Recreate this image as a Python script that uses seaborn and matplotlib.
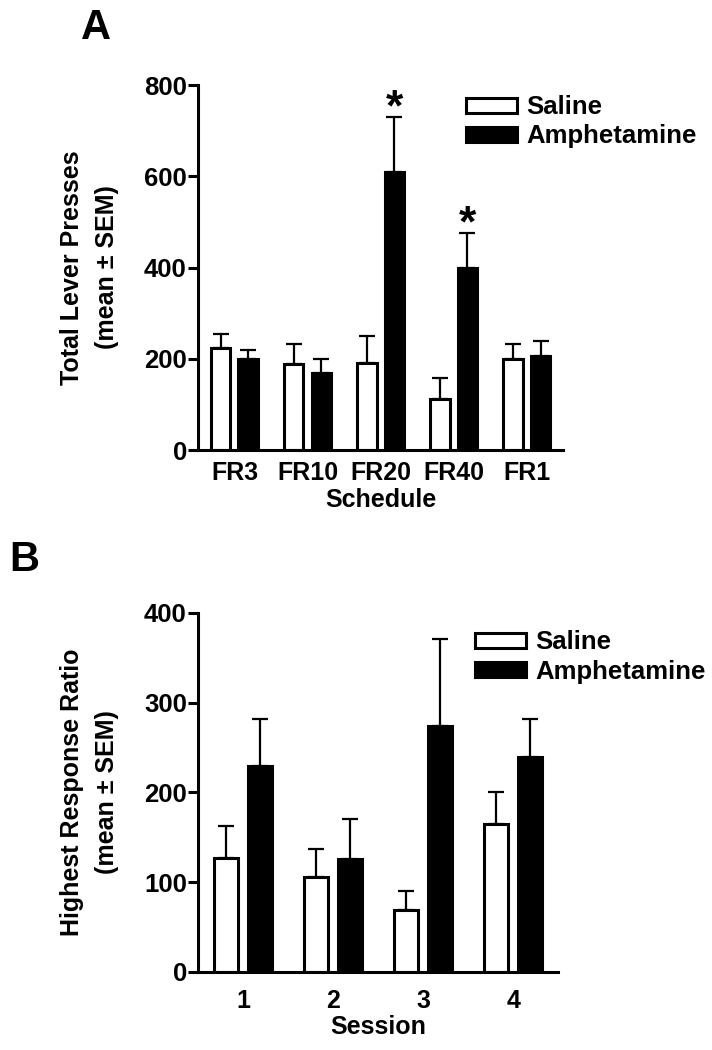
import numpy as np
import pandas as pd
import matplotlib
matplotlib.use("Agg")
import matplotlib.pyplot as plt
import seaborn as sns

# Panel A: total lever presses per schedule
schedules = ["FR3", "FR10", "FR20", "FR40", "FR1"]
a_saline = [224, 189, 190, 112, 200]
a_saline_sem = [30, 43, 61, 46, 32]
a_amph = [200, 169, 609, 399, 207]
a_amph_sem = [19, 31, 121, 77, 31]
a_starred = ["FR20", "FR40"]

# Panel B: highest response ratio per session
sessions = ["1", "2", "3", "4"]
b_saline = [127, 106, 69, 165]
b_saline_sem = [36, 31, 21, 35]
b_amph = [229, 126, 274, 240]
b_amph_sem = [53, 45, 97, 42]

groups = ["Saline", "Amphetamine"]
palette = {"Saline": "white", "Amphetamine": "black"}

sns.set_style("ticks", rc={"axes.edgecolor": "black", "text.color": "black",
                           "axes.labelcolor": "black", "xtick.color": "black",
                           "ytick.color": "black"})
plt.rcParams["font.family"] = ["Liberation Sans", "DejaVu Sans"]
plt.rcParams["font.weight"] = "bold"


def make_df(cats, sal, amph):
    rows = []
    for c, v in zip(cats, sal):
        rows.append({"cat": c, "group": "Saline", "value": v})
    for c, v in zip(cats, amph):
        rows.append({"cat": c, "group": "Amphetamine", "value": v})
    return pd.DataFrame(rows)


def draw_panel(ax, cats, sal, sal_sem, amph, amph_sem, ymax, ystep, xlabel, ylabel,
               legend_anchor, xpad):
    df = make_df(cats, sal, amph)
    sns.barplot(data=df, x="cat", y="value", hue="group", order=cats, hue_order=groups,
                palette=palette, edgecolor="black", linewidth=2.2, width=0.76, gap=0.29,
                errorbar=None, ax=ax)
    # one-sided SEM bars
    sems = [sal_sem, amph_sem]
    for cont, sem in zip(ax.containers, sems):
        xs = [p.get_x() + p.get_width() / 2 for p in cont.patches]
        hs = [p.get_height() for p in cont.patches]
        ax.errorbar(xs, hs, yerr=[np.zeros(len(sem)), sem], fmt="none", ecolor="black",
                    elinewidth=1.6, capsize=6, capthick=1.6, zorder=1)
    ax.set_xlim(-0.5, len(cats) - 0.5)
    ax.set_ylim(0, ymax)
    ax.set_yticks(np.arange(0, ymax + 1, ystep))
    sns.despine(ax=ax)
    for s in ["left", "bottom"]:
        ax.spines[s].set_linewidth(2.2)
    ax.tick_params(axis="y", length=7, width=2.2, labelsize=18.5, pad=1)
    ax.tick_params(axis="x", length=0, labelsize=18, pad=xpad)
    for t in ax.get_xticklabels() + ax.get_yticklabels():
        t.set_fontweight("bold")
    ax.set_xlabel(xlabel, fontsize=18, fontweight="bold", labelpad=2)
    ax.set_ylabel(ylabel, fontsize=18, fontweight="bold", labelpad=18, linespacing=1.55)
    leg = ax.legend(loc="upper left", bbox_to_anchor=legend_anchor, frameon=False,
                    prop={"weight": "bold", "size": 18.5}, handlelength=2.0, handleheight=0.5,
                    handletextpad=0.35, labelspacing=0.2, borderaxespad=0)
    for h in leg.legend_handles:
        h.set_edgecolor("black")
        h.set_linewidth(2.2)
    return df


fig = plt.figure(figsize=(7.12, 10.5), dpi=100)
ax_a = fig.add_axes([0.278, 0.5714, 0.513, 0.3476])
ax_b = fig.add_axes([0.278, 0.0743, 0.506, 0.3419])

draw_panel(ax_a, schedules, a_saline, a_saline_sem, a_amph, a_amph_sem, 800, 200,
           "Schedule", "Total Lever Presses\n(mean \u00b1 SEM)", (0.705, 1.0), 8)
draw_panel(ax_b, sessions, b_saline, b_saline_sem, b_amph, b_amph_sem, 400, 100,
           "Session", "Highest Response Ratio\n(mean \u00b1 SEM)", (0.74, 0.98), 12)

# significance stars above amphetamine bars
amph_bars = ax_a.containers[1].patches
for i, c in enumerate(schedules):
    if c in a_starred:
        p = amph_bars[i]
        ax_a.text(p.get_x() + p.get_width() / 2, a_amph[i] + a_amph_sem[i] - 28, "*",
                  ha="center", va="bottom", fontsize=32, fontweight="bold")

fig.text(0.135, 0.973, "A", fontsize=30, fontweight="bold", ha="center", va="center")
fig.text(0.034, 0.467, "B", fontsize=30, fontweight="bold", ha="center", va="center")

fig.savefig("out.png", dpi=100)
